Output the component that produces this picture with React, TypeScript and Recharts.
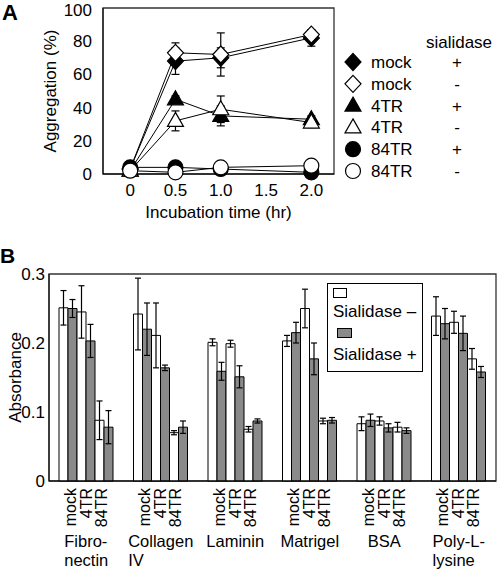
import React from 'react';
import { LineChart, Line, BarChart, Bar, XAxis, YAxis, ErrorBar, ReferenceArea, Legend } from 'recharts';

const FONT = '"Liberation Sans", Arial, Helvetica, sans-serif';

// ---- panel A: aggregation vs incubation time ----
const hours = [0, 0.5, 1.0, 2.0];
const mockPlusAgg = [3, 68, 70, 82];
const mockPlusAggErr = [1, 8, 6, 5];
const mockMinusAgg = [3, 73, 72, 84];
const mockMinusAggErr = [1, 6, 13, 2];
const tr4PlusAgg = [2, 45, 35, 33];
const tr4PlusAggErr = [1, 2, 6, 2];
const tr4MinusAgg = [2, 32, 39, 31];
const tr4MinusAggErr = [1, 6, 8, 3];
const tr84PlusAgg = [4, 4, 3, 1];
const tr84PlusAggErr = [1, 1, 1, 1];
const tr84MinusAgg = [2, 1, 4, 5];
const tr84MinusAggErr = [1, 1, 1, 1];
const hourTicks = [0, 0.5, 1, 1.5, 2];
const aggTicks = [0, 20, 40, 60, 80, 100];

// ---- panel B: absorbance on substrates ----
const substrates = ['Fibro-\nnectin', 'Collagen\nIV', 'Laminin', 'Matrigel', 'BSA', 'Poly-L-\nlysine'];
const mockMinus = [0.251, 0.242, 0.201, 0.203, 0.083, 0.239];
const mockMinusErr = [0.025, 0.052, 0.005, 0.008, 0.01, 0.028];
const mockPlus = [0.25, 0.22, 0.159, 0.215, 0.088, 0.228];
const mockPlusErr = [0.013, 0.038, 0.013, 0.015, 0.009, 0.022];
const tr4Minus = [0.245, 0.211, 0.199, 0.25, 0.087, 0.23];
const tr4MinusErr = [0.038, 0.047, 0.005, 0.028, 0.006, 0.016];
const tr4Plus = [0.203, 0.164, 0.151, 0.177, 0.077, 0.214];
const tr4PlusErr = [0.024, 0.004, 0.016, 0.023, 0.006, 0.025];
const tr84Minus = [0.088, 0.07, 0.075, 0.087, 0.078, 0.177];
const tr84MinusErr = [0.028, 0.003, 0.004, 0.004, 0.007, 0.015];
const tr84Plus = [0.078, 0.078, 0.087, 0.088, 0.073, 0.158];
const tr84PlusErr = [0.024, 0.009, 0.003, 0.004, 0.004, 0.008];
const cellLines = ['mock', '4TR', '84TR'];
const absTicks = [0, 0.1, 0.2, 0.3];

const aggSeries = [
  { key: 'mockP', label: 'mock', sign: '+', shape: 'diamond', filled: true, values: mockPlusAgg, err: mockPlusAggErr },
  { key: 'mockM', label: 'mock', sign: '-', shape: 'diamond', filled: false, values: mockMinusAgg, err: mockMinusAggErr },
  { key: 'tr4P', label: '4TR', sign: '+', shape: 'triangle', filled: true, values: tr4PlusAgg, err: tr4PlusAggErr },
  { key: 'tr4M', label: '4TR', sign: '-', shape: 'triangle', filled: false, values: tr4MinusAgg, err: tr4MinusAggErr },
  { key: 'tr84P', label: '84TR', sign: '+', shape: 'circle', filled: true, values: tr84PlusAgg, err: tr84PlusAggErr },
  { key: 'tr84M', label: '84TR', sign: '-', shape: 'circle', filled: false, values: tr84MinusAgg, err: tr84MinusAggErr },
];

const aggData = hours.map((t, i) => {
  const row: any = { t };
  aggSeries.forEach((s) => {
    row[s.key] = s.values[i];
    row[s.key + 'Err'] = s.err[i];
  });
  return row;
});

const barSeries = [
  { key: 'mockM', values: mockMinus, err: mockMinusErr, fill: '#fff' },
  { key: 'mockP', values: mockPlus, err: mockPlusErr, fill: '#8a8a8a' },
  { key: 'tr4M', values: tr4Minus, err: tr4MinusErr, fill: '#fff' },
  { key: 'tr4P', values: tr4Plus, err: tr4PlusErr, fill: '#8a8a8a' },
  { key: 'tr84M', values: tr84Minus, err: tr84MinusErr, fill: '#fff' },
  { key: 'tr84P', values: tr84Plus, err: tr84PlusErr, fill: '#8a8a8a' },
];

const absData = substrates.map((g, i) => {
  const row: any = { group: g };
  barSeries.forEach((s) => {
    row[s.key] = s.values[i];
    row[s.key + 'Err'] = s.err[i];
  });
  return row;
});

const fmtHour = (v: number) => (v === 0 ? '0' : v.toFixed(1));
const fmtAbs = (v: number) => (v === 0 ? '0' : v.toFixed(1));

function Marker({ cx, cy, shape, filled }: any) {
  const common = { fill: filled ? '#000' : '#fff', stroke: '#000', strokeWidth: 1.2 };
  if (shape === 'diamond') {
    return <polygon points={`${cx},${cy - 8.5} ${cx + 8},${cy} ${cx},${cy + 8.5} ${cx - 8},${cy}`} {...common} />;
  }
  if (shape === 'triangle') {
    return <polygon points={`${cx},${cy - 8.5} ${cx + 8},${cy + 5.5} ${cx - 8},${cy + 5.5}`} {...common} />;
  }
  return <circle cx={cx} cy={cy} r={7.5} {...common} />;
}

function AggLegend() {
  return (
    <svg width={158} height={155} style={{ fontFamily: FONT }}>
      <text x={119} y={18} textAnchor="middle" fontSize={17} fill="#000">sialidase</text>
      {aggSeries.map((s, i) => {
        const cy = 32 + i * 21.8;
        return (
          <g key={s.key}>
            <Marker cx={13} cy={cy} shape={s.shape} filled={s.filled} />
            <text x={31} y={cy + 6} fontSize={17} fill="#000">{s.label}</text>
            <text x={117} y={cy + 6} textAnchor="middle" fontSize={17} fill="#000">{s.sign}</text>
          </g>
        );
      })}
    </svg>
  );
}

function AbsLegend() {
  const txt: React.CSSProperties = { position: 'absolute', left: 5, fontSize: 17, lineHeight: '17px', whiteSpace: 'nowrap' };
  return (
    <div style={{ position: 'relative', width: 96, height: 89, border: '1px solid #000', boxSizing: 'border-box', background: '#fff', fontFamily: FONT }}>
      <div style={{ position: 'absolute', left: 5, top: 4, width: 14, height: 10, border: '1px solid #000', boxSizing: 'border-box', background: '#fff' }} />
      <div style={{ ...txt, top: 19 }}>Sialidase –</div>
      <div style={{ position: 'absolute', left: 9, top: 44, width: 15, height: 10, border: '1px solid #000', boxSizing: 'border-box', background: '#8a8a8a' }} />
      <div style={{ ...txt, top: 62 }}>Sialidase +</div>
    </div>
  );
}

let measureCtx: CanvasRenderingContext2D | null = null;
function textWidth(s: string, font: string) {
  if (!measureCtx) measureCtx = document.createElement('canvas').getContext('2d');
  if (!measureCtx) return s.length * 9;
  measureCtx.font = font;
  return measureCtx.measureText(s).width;
}

const lineLabelOffsets = [-16, 0, 15];

function SubstrateTick({ x, y, payload }: any) {
  const lines = String(payload.value).split('\n');
  const w = Math.max(...lines.map((l) => textWidth(l, `16.5px ${FONT}`)));
  const left = x - w / 2;
  return (
    <g>
      {cellLines.map((c, i) => (
        <text
          key={c}
          transform={`translate(${x + lineLabelOffsets[i]}, ${y + 7}) rotate(-90)`}
          textAnchor="end"
          dominantBaseline="central"
          fontSize={16}
          fill="#000"
        >
          {c}
        </text>
      ))}
      {lines.map((l, i) => (
        <text key={i} x={left} y={y + 66 + i * 19} fontSize={16.5} fill="#000">
          {l}
        </text>
      ))}
    </g>
  );
}

export default function App() {
  return (
    <div style={{ position: 'absolute', left: 0, top: 0, width: 498, height: 570, background: '#fff', fontFamily: FONT }}>
      <div style={{ position: 'absolute', left: 2, top: 1, fontSize: 22, fontWeight: 'bold', lineHeight: '24px' }}>A</div>
      <div style={{ position: 'absolute', left: 0, top: 244, fontSize: 21, fontWeight: 'bold', lineHeight: '23px' }}>B</div>

      <div style={{ position: 'absolute', left: 0, top: 0 }}>
        <LineChart width={498} height={225} data={aggData} margin={{ top: 8, right: 164, left: 0, bottom: 5 }}>
          <ReferenceArea y1={0} y2={100} fill="none" stroke="#333" strokeWidth={1.3} ifOverflow="visible" />
          <XAxis
            dataKey="t"
            type="number"
            domain={[-0.3, 2.25]}
            allowDataOverflow
            ticks={hourTicks}
            tickFormatter={fmtHour}
            height={46}
            tickLine={false}
            tickSize={0}
            tickMargin={10}
            axisLine={{ stroke: '#000' }}
            tick={{ fill: '#000', fontSize: 17 }}
            label={{ value: 'Incubation time (hr)', position: 'insideBottom', offset: 2, fill: '#000', fontSize: 17 }}
          />
          <YAxis
            type="number"
            domain={[0, 100]}
            ticks={aggTicks}
            width={103}
            tickLine={false}
            tickSize={0}
            tickMargin={11}
            axisLine={{ stroke: '#000' }}
            tick={{ fill: '#000', fontSize: 17 }}
            label={{ value: 'Aggregation (%)', angle: -90, position: 'insideLeft', offset: 50, fill: '#000', fontSize: 17, style: { textAnchor: 'middle' } }}
          />
          {aggSeries.map((s) => (
            <Line
              key={s.key}
              dataKey={s.key}
              stroke="#000"
              strokeWidth={1}
              isAnimationActive={false}
              activeDot={false}
              dot={(p: any) => <Marker key={`${s.key}-${p.index}`} cx={p.cx} cy={p.cy} shape={s.shape} filled={s.filled} />}
            >
              <ErrorBar dataKey={s.key + 'Err'} direction="y" width={4} stroke="#000" strokeWidth={1.2} />
            </Line>
          ))}
          <Legend
            layout="horizontal"
            verticalAlign="middle"
            align="center"
            wrapperStyle={{ left: 340, top: 30, width: 158, height: 155 }}
            content={() => <AggLegend />}
          />
        </LineChart>
      </div>

      <div style={{ position: 'absolute', left: 0, top: 260 }}>
        <BarChart width={498} height={310} data={absData} margin={{ top: 14, right: 2, left: 0, bottom: 0 }} barSize={9} barGap={0}>
          <ReferenceArea y1={0} y2={0.3} fill="none" stroke="#333" strokeWidth={1.3} ifOverflow="visible" />
          <XAxis
            dataKey="group"
            interval={0}
            height={89}
            tickLine={false}
            tickSize={0}
            tickMargin={0}
            axisLine={{ stroke: '#000' }}
            tick={<SubstrateTick />}
          />
          <YAxis
            type="number"
            domain={[0, 0.3]}
            ticks={absTicks}
            tickFormatter={fmtAbs}
            width={49}
            tickLine={false}
            tickSize={0}
            tickMargin={4}
            axisLine={{ stroke: '#000' }}
            tick={{ fill: '#000', fontSize: 17 }}
            label={{ value: 'Absorbance', angle: -90, position: 'insideLeft', offset: 15, fill: '#000', fontSize: 17, style: { textAnchor: 'middle' } }}
          />
          {barSeries.map((s) => (
            <Bar key={s.key} dataKey={s.key} fill={s.fill} stroke="#000" strokeWidth={1} isAnimationActive={false}>
              <ErrorBar dataKey={s.key + 'Err'} direction="y" width={3} stroke="#000" strokeWidth={1.2} />
            </Bar>
          ))}
          <Legend
            layout="horizontal"
            verticalAlign="middle"
            align="center"
            wrapperStyle={{ left: 327, top: 23, width: 96, height: 89 }}
            content={() => <AbsLegend />}
          />
        </BarChart>
      </div>
    </div>
  );
}
